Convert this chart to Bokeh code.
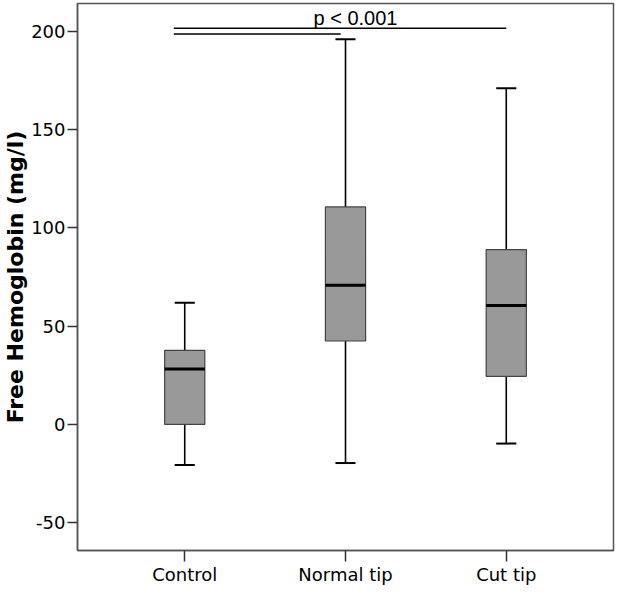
from bokeh.plotting import figure
from bokeh.models import FixedTicker, ColumnDataSource
from bokeh.core.properties import value
from bokeh.embed import file_html
from bokeh.resources import INLINE

categories = ["Control", "Normal tip", "Cut tip"]
positions = [1, 2, 3]
whisker_low = [-20.7, -19.7, -9.8]
q1 = [0.0, 42.4, 24.4]
median = [28.2, 70.7, 60.5]
q3 = [37.6, 110.6, 88.9]
whisker_high = [61.9, 195.9, 171.0]

y_ticks = [-50, 0, 50, 100, 150, 200]
y_tick_labels = ["-50", "0", "50", "100", "150", "200"]
sig_text = "p < 0.001"

box_w = 0.25
cap_w = 0.125

src = ColumnDataSource(dict(
    x=positions,
    left=[p - box_w / 2 for p in positions],
    right=[p + box_w / 2 for p in positions],
    capl=[p - cap_w / 2 for p in positions],
    capr=[p + cap_w / 2 for p in positions],
    lo=whisker_low, q1=q1, med=median, q3=q3, hi=whisker_high,
))

p = figure(width=620, height=587, output_backend="svg", toolbar_location=None,
           x_range=(0.333, 3.667), y_range=(-64.2, 214.1),
           min_border_left=72, min_border_top=3, min_border_right=7, min_border_bottom=34)

p.xgrid.visible = False
p.ygrid.visible = False
p.outline_line_color = "#555555"
p.outline_line_width = 1.5

# whiskers
p.segment(x0="x", y0="lo", x1="x", y1="q1", source=src, line_color="black", line_width=1.6)
p.segment(x0="x", y0="q3", x1="x", y1="hi", source=src, line_color="black", line_width=1.6)
# caps
p.segment(x0="capl", y0="lo", x1="capr", y1="lo", source=src, line_color="black", line_width=2)
p.segment(x0="capl", y0="hi", x1="capr", y1="hi", source=src, line_color="black", line_width=2)
# boxes
p.quad(left="left", right="right", bottom="q1", top="q3", source=src,
       fill_color="#999999", line_color="#444444", line_width=1.2)
# medians
p.segment(x0="left", y0="med", x1="right", y1="med", source=src, line_color="black", line_width=3)

# significance annotation
sig = ColumnDataSource(dict(x0=[0.932, 0.932], x1=[3.0, 1.97], y=[201.5, 198.6]))
p.segment(x0="x0", y0="y", x1="x1", y1="y", source=sig, line_color="black", line_width=1.5)
p.text(x=[2.062], y=[201.0], text=[sig_text], text_align="center", text_baseline="bottom",
       text_font=value("Liberation Sans"), text_font_size="20px", text_color="black")

# axes
p.xaxis.ticker = FixedTicker(ticks=positions)
p.xaxis.major_label_overrides = {pos: c for pos, c in zip(positions, categories)}
p.yaxis.ticker = FixedTicker(ticks=y_ticks)
p.yaxis.major_label_overrides = {t: s for t, s in zip(y_ticks, y_tick_labels)}
for ax in (p.xaxis[0], p.yaxis[0]):
    ax.minor_tick_line_color = None
    ax.major_tick_in = 0
    ax.axis_line_color = "#555555"
    ax.axis_line_width = 1.5
    ax.major_tick_line_color = "#333333"
    ax.major_tick_line_width = 1.5
    ax.major_label_text_font = "DejaVu Sans"
    ax.major_label_text_font_size = "18px"
    ax.major_label_text_color = "black"
p.xaxis.major_tick_out = 11
p.yaxis.major_tick_out = 10
p.xaxis.major_label_standoff = 2
p.yaxis.major_label_standoff = 2

p.yaxis.axis_label = "Free Hemoglobin (mg/l)"
p.yaxis.axis_label_text_font = "DejaVu Sans"
p.yaxis.axis_label_text_font_style = "bold"
p.yaxis.axis_label_text_font_size = "22px"
p.yaxis.axis_label_text_color = "black"
p.yaxis.axis_label_standoff = 0

open("out.html", "w").write(file_html(p, INLINE))
